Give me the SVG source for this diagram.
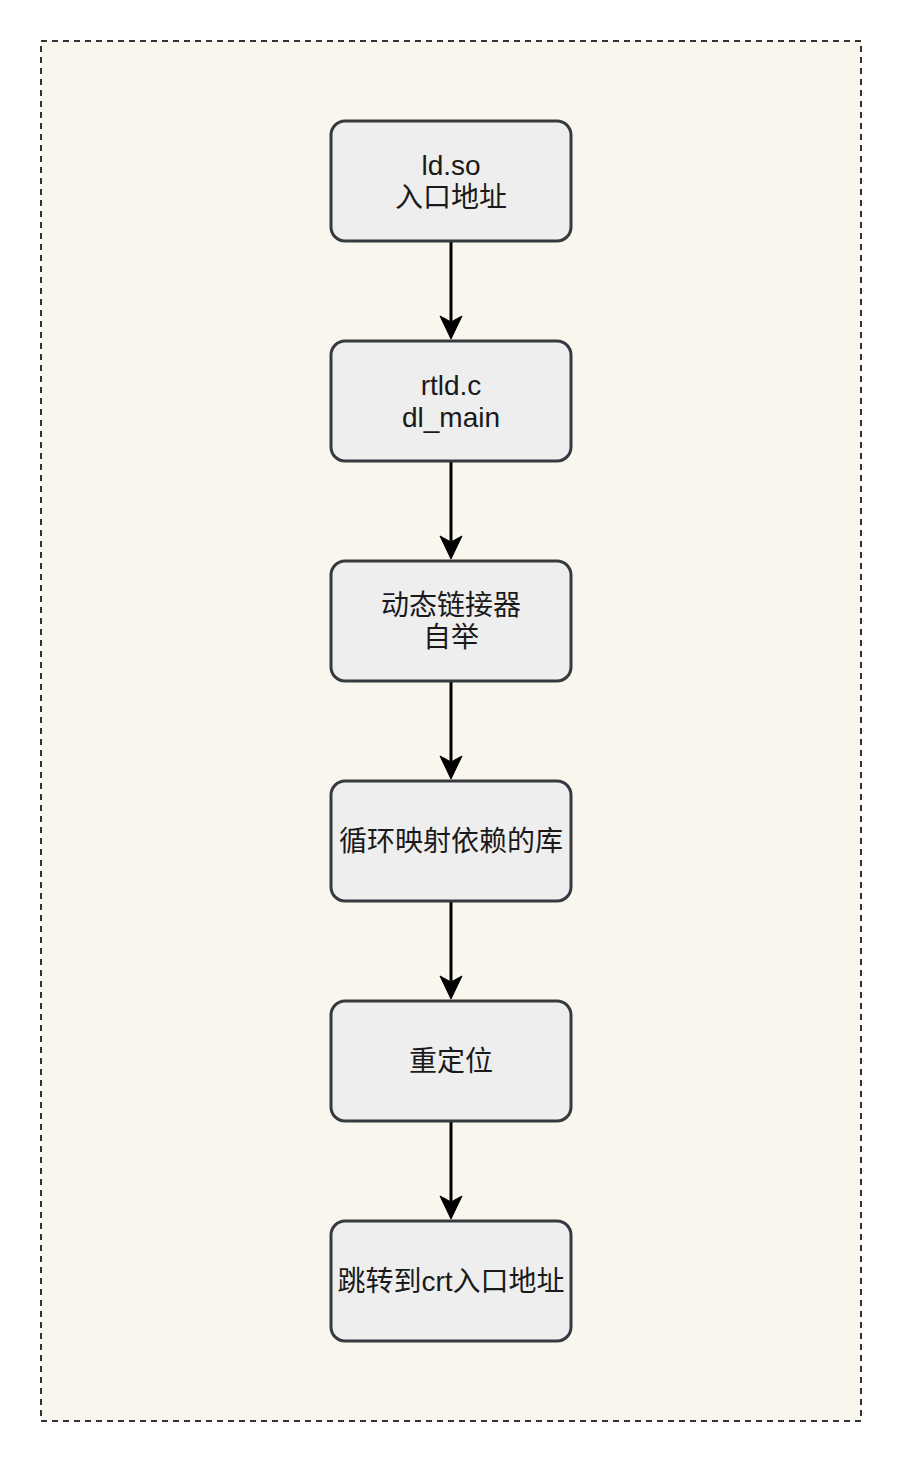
<svg xmlns="http://www.w3.org/2000/svg" width="902" height="1462" viewBox="0 0 902 1462">
<defs>
<style>
.node rect{fill:#eeeeee;stroke:#36393d;stroke-width:3}
.node text{font-family:"Liberation Sans","Noto Sans CJK SC",sans-serif;font-size:28px;fill:#1a1a1a;text-anchor:middle}
.edge line{stroke:#000;stroke-width:3;fill:none}
.edge path{fill:#000;stroke:#000;stroke-width:1}
</style>
</defs>
<rect x="41" y="41" width="820" height="1380" fill="#f9f7ed" stroke="#333333" stroke-width="2" stroke-dasharray="6 5"/>
<g id="connectors">
<g class="edge"><line x1="451" y1="241" x2="451" y2="322"/><path d="M451,339 L440,316 L451,322 L462,316 Z"/></g>
<g class="edge"><line x1="451" y1="461" x2="451" y2="542"/><path d="M451,559 L440,536 L451,542 L462,536 Z"/></g>
<g class="edge"><line x1="451" y1="681" x2="451" y2="762"/><path d="M451,779 L440,756 L451,762 L462,756 Z"/></g>
<g class="edge"><line x1="451" y1="901" x2="451" y2="982"/><path d="M451,999 L440,976 L451,982 L462,976 Z"/></g>
<g class="edge"><line x1="451" y1="1121" x2="451" y2="1202"/><path d="M451,1219 L440,1196 L451,1202 L462,1196 Z"/></g>
</g>
<g id="n1" class="node"><rect x="331" y="121" width="240" height="120" rx="14"/><text x="451" y="175">ld.so</text><text x="451" y="207">入口地址</text></g>
<g id="n2" class="node"><rect x="331" y="341" width="240" height="120" rx="14"/><text x="451" y="395">rtld.c</text><text x="451" y="427">dl_main</text></g>
<g id="n3" class="node"><rect x="331" y="561" width="240" height="120" rx="14"/><text x="451" y="615">动态链接器</text><text x="451" y="647">自举</text></g>
<g id="n4" class="node"><rect x="331" y="781" width="240" height="120" rx="14"/><text x="451" y="851">循环映射依赖的库</text></g>
<g id="n5" class="node"><rect x="331" y="1001" width="240" height="120" rx="14"/><text x="451" y="1071">重定位</text></g>
<g id="n6" class="node"><rect x="331" y="1221" width="240" height="120" rx="14"/><text x="451" y="1291">跳转到crt入口地址</text></g>
</svg>
